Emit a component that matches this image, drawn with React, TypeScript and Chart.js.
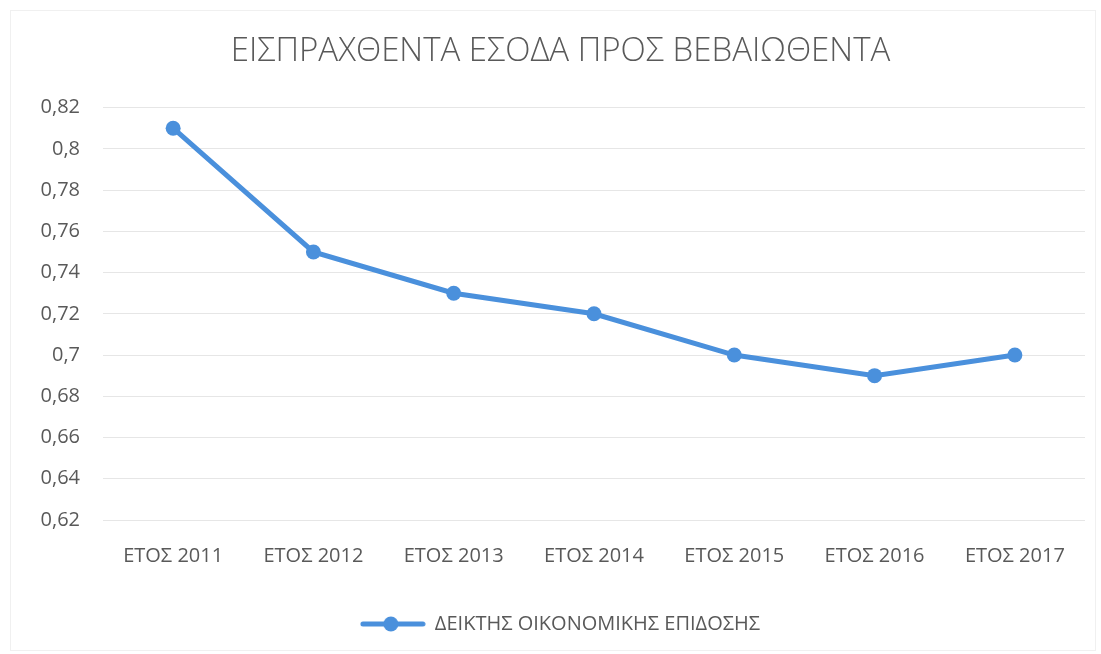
import React, { useEffect, useRef } from "react";
import { Chart, registerables } from "chart.js";

Chart.register(...registerables);

const TITLE = "ΕΙΣΠΡΑΧΘΕΝΤΑ ΕΣΟΔΑ ΠΡΟΣ ΒΕΒΑΙΩΘΕΝΤΑ";
const SERIES_LABEL = "ΔΕΙΚΤΗΣ ΟΙΚΟΝΟΜΙΚΗΣ ΕΠΙΔΟΣΗΣ";
const categories = ["ΕΤΟΣ 2011", "ΕΤΟΣ 2012", "ΕΤΟΣ 2013", "ΕΤΟΣ 2014", "ΕΤΟΣ 2015", "ΕΤΟΣ 2016", "ΕΤΟΣ 2017"];
const values = [0.81, 0.75, 0.73, 0.72, 0.70, 0.69, 0.70];
const yMin = 0.62;
const yMax = 0.82;
const yStep = 0.02;

const BLUE = "#4A90DC";
const TEXT = "#595959";
const FONT = "'Open Sans', sans-serif";

function legendIcon(): HTMLCanvasElement {
  const c = document.createElement("canvas");
  c.width = 66;
  c.height = 18;
  const g = c.getContext("2d")!;
  g.strokeStyle = BLUE;
  g.lineWidth = 5;
  g.lineCap = "round";
  g.beginPath();
  g.moveTo(3, 9);
  g.lineTo(63, 9);
  g.stroke();
  g.fillStyle = BLUE;
  g.beginPath();
  g.arc(31, 9, 7.5, 0, Math.PI * 2);
  g.fill();
  return c;
}

const framePlugin = {
  id: "frame",
  beforeDraw(chart: any) {
    const ctx = chart.ctx;
    ctx.save();
    ctx.fillStyle = "#ffffff";
    ctx.fillRect(0, 0, chart.width, chart.height);
    ctx.strokeStyle = "#f0f0f0";
    ctx.lineWidth = 1;
    ctx.strokeRect(10.5, 10.5, chart.width - 16, chart.height - 14);
    ctx.restore();
  },
};

export default function App() {
  const ref = useRef<HTMLCanvasElement>(null);
  useEffect(() => {
    const icon = legendIcon();
    const chart = new Chart(ref.current!, {
      type: "line",
      data: {
        labels: categories,
        datasets: [
          {
            label: SERIES_LABEL,
            data: values,
            borderColor: BLUE,
            backgroundColor: BLUE,
            borderWidth: 5,
            pointRadius: 7.5,
            pointHoverRadius: 7.5,
            pointBackgroundColor: BLUE,
            pointBorderColor: BLUE,
            pointBorderWidth: 0,
            tension: 0,
            fill: false,
            yAxisID: "y",
          },
        ],
      },
      options: {
        animation: false,
        responsive: false,
        layout: { padding: { top: 18, left: 20, right: 0, bottom: 10 } },
        plugins: {
          title: {
            display: true,
            text: TITLE,
            color: TEXT,
            font: { family: FONT, size: 33, weight: "300" as any },
            padding: { top: 14, bottom: 36 },
          },
          legend: {
            position: "bottom",
            labels: {
              usePointStyle: true,
              pointStyle: icon as any,
              pointStyleWidth: 64,
              color: TEXT,
              font: { family: FONT, size: 20 },
              padding: 10,
              generateLabels: () => [
                {
                  text: SERIES_LABEL,
                  pointStyle: icon,
                  fillStyle: BLUE,
                  strokeStyle: BLUE,
                  lineWidth: 0,
                  hidden: false,
                  datasetIndex: 0,
                  fontColor: TEXT,
                } as any,
              ],
            },
          },
          tooltip: { enabled: false },
        },
        scales: {
          x: {
            offset: true,
            grid: { display: false, drawTicks: false },
            border: { display: false },
            ticks: {
              color: TEXT,
              font: { family: FONT, size: 20 },
              padding: 24,
              maxRotation: 0,
            },
            afterFit: (s: any) => {
              s.height = 84;
            },
          },
          y: {
            min: yMin,
            max: yMax,
            grid: { color: "#e6e6e6", lineWidth: 1, drawTicks: false },
            border: { display: false },
            ticks: {
              stepSize: yStep,
              color: TEXT,
              font: { family: FONT, size: 20 },
              padding: 23,
              callback: (v: any) => String(+Number(v).toFixed(2)).replace(".", ","),
            },
            afterFit: (s: any) => {
              s.width = 83;
            },
          },
          yRight: {
            type: "linear",
            position: "right",
            min: yMin,
            max: yMax,
            grid: { display: false, drawTicks: false },
            border: { display: false },
            ticks: { display: false },
            afterFit: (s: any) => {
              s.width = 16;
            },
          },
        },
      },
      plugins: [framePlugin],
    });
    return () => chart.destroy();
  }, []);
  return (
    <div style={{ position: "fixed", left: 0, top: 0, width: 1101, height: 654, background: "#fff" }}>
      <canvas ref={ref} width={1101} height={654} style={{ width: 1101, height: 654 }} />
    </div>
  );
}
